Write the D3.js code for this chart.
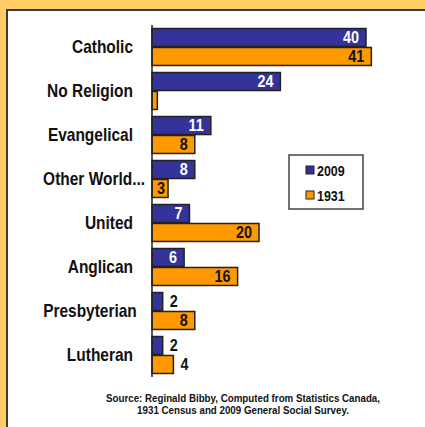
<!DOCTYPE html>
<html>
<head>
<meta charset="utf-8">
<script src="https://cdn.jsdelivr.net/npm/d3@7"></script>
<style>
  html, body { margin: 0; padding: 0; background: #FFCC66; }
  svg { display: block; }
  text { font-family: "Liberation Sans", Arial, sans-serif; font-weight: bold; }
</style>
</head>
<body>
<div id="chart"></div>
<script>
// data
const categories = ["Catholic", "No Religion", "Evangelical", "Other World...", "United", "Anglican", "Presbyterian", "Lutheran"];
const seriesNames = ["2009", "1931"];
const values2009 = [40, 24, 11, 8, 7, 6, 2, 2];
const values1931 = [41, 1, 8, 3, 20, 16, 8, 4];
const sourceLines = ["Source:  Reginald Bibby, Computed from Statistics Canada,",
                     "1931 Census and 2009 General Social Survey."];

const colors = { "2009": "#333399", "1931": "#FF9900" };

var width = 425, height = 427;
var axisX = 152;

var svg = d3.select("#chart").append("svg")
  .attr("width", width)
  .attr("height", height);

// the original uses a narrow bold face, so squeeze the text horizontally
function squeeze(sel, sx, xf, yf) {
  sel.attr("x", 0).attr("y", 0)
    .attr("transform", (d, i, n) => `translate(${xf(d, i, n)},${yf(d, i, n)}) scale(${sx},1)`);
}

// orange frame and white panel
svg.append("rect").attr("x", 0).attr("y", 0).attr("width", width).attr("height", height).attr("fill", "#FFCC66");
svg.append("rect")
  .attr("x", 7).attr("y", 10).attr("width", width + 20).attr("height", height + 20)
  .attr("fill", "#fff").attr("stroke", "#3a3a3a").attr("stroke-width", 2);

// scales
var x = d3.scaleLinear().domain([0, 40]).range([axisX, 366]);
var y = d3.scaleBand().domain(categories).range([25, 377]).paddingInner(0.16).paddingOuter(0.08);
var ySub = d3.scaleBand().domain(seriesNames).range([0, y.bandwidth()]).paddingInner(0.05);

var rows = categories.map((c, i) => ({ cat: c, "2009": values2009[i], "1931": values1931[i] }));

// category labels (right aligned, long labels pushed right)
var catSx = 0.86;
var catLabels = svg.append("g").selectAll("text")
  .data(categories)
  .join("text")
  .attr("dy", "0.36em")
  .attr("text-anchor", "end")
  .attr("font-size", 18)
  .attr("fill", "#111")
  .text(d => d);
squeeze(catLabels, catSx,
  (d, i, n) => Math.max(axisX - 19, 43 + n[i].getComputedTextLength() * catSx),
  d => y(d) + y.bandwidth() / 2);

// bars
var groups = svg.append("g").selectAll("g")
  .data(rows)
  .join("g")
  .attr("transform", d => `translate(0,${y(d.cat)})`);

var cells = groups.selectAll("g")
  .data(d => seriesNames.map(s => ({ cat: d.cat, key: s, value: d[s] })))
  .join("g");

cells.append("rect")
  .attr("x", x(0))
  .attr("y", d => ySub(d.key))
  .attr("width", d => x(d.value) - x(0))
  .attr("height", ySub.bandwidth())
  .attr("fill", d => colors[d.key])
  .attr("stroke", "#222")
  .attr("stroke-width", 1.5);

// value labels: inside end when there is room, outside for the narrow ones
const outside = new Set(["Presbyterian-2009", "Lutheran-2009", "Lutheran-1931"]);
const isOut = d => outside.has(d.cat + "-" + d.key);
var valLabels = cells.filter(d => d.value > 1)
  .append("text")
  .attr("dy", "0.37em")
  .attr("font-size", 16)
  .attr("fill", d => (!isOut(d) && d.key === "2009") ? "#fff" : "#111")
  .attr("text-anchor", d => {
    if (isOut(d)) return "start";
    return (x(d.value) - x(0) < 25) ? "middle" : "end";
  })
  .text(d => d.value);
squeeze(valLabels, 0.9,
  d => {
    if (isOut(d)) return x(d.value) + 7;
    return (x(d.value) - x(0) < 25) ? (x(0) + x(d.value)) / 2 + 1 : x(d.value) - 7;
  },
  d => ySub(d.key) + ySub.bandwidth() / 2);

// vertical axis line
svg.append("line")
  .attr("x1", axisX).attr("x2", axisX)
  .attr("y1", 25).attr("y2", 377)
  .attr("stroke", "#222").attr("stroke-width", 1.5);

// legend
var legend = svg.append("g").attr("transform", "translate(289,155)");
legend.append("rect")
  .attr("width", 74).attr("height", 54)
  .attr("fill", "#fff").attr("stroke", "#444").attr("stroke-width", 1.5);
var items = legend.selectAll("g.item")
  .data(seriesNames)
  .join("g")
  .attr("class", "item")
  .attr("transform", (d, i) => `translate(17,${11 + i * 25})`);
items.append("rect")
  .attr("width", 8).attr("height", 8)
  .attr("fill", d => colors[d])
  .attr("stroke", "#222").attr("stroke-width", 1);
var legText = items.append("text")
  .attr("dy", "0.37em")
  .attr("font-size", 15).attr("fill", "#111")
  .text(d => d);
squeeze(legText, 0.83, () => 11, () => 4.5);

// source note
var src = svg.append("g").selectAll("text")
  .data(sourceLines)
  .join("text")
  .attr("text-anchor", "middle")
  .attr("font-size", 10.5)
  .attr("fill", "#111")
  .text(d => d);
squeeze(src, 0.93, () => 243, (d, i) => 402 + i * 11.5);
</script>
</body>
</html>
